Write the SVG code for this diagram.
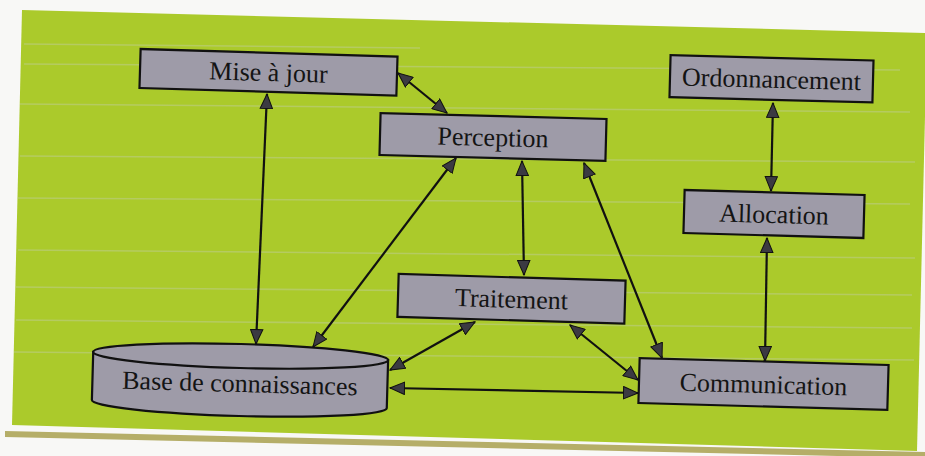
<svg xmlns="http://www.w3.org/2000/svg" width="925" height="456" viewBox="0 0 925 456">
  <style>
    .box { fill: #9e9ba8; stroke: #111; stroke-width: 2.2; }
    .lbl { font-family: "Liberation Serif", "Times New Roman", serif; font-size: 26px; fill: #141414; text-anchor: middle; }
    .con { stroke: #111; stroke-width: 2.2; fill: none; marker-start: url(#ah); marker-end: url(#ah); }
    .streak { stroke: #c9cfc6; stroke-width: 1.5; opacity: 0.35; }
  </style>
  <defs>
    <marker id="ah" markerUnits="userSpaceOnUse" viewBox="0 0 16 14" markerWidth="16" markerHeight="14" refX="15" refY="7" orient="auto-start-reverse">
      <path d="M0.5,0.8 L15,7 L0.5,13.2 Z" fill="#3b3a42" stroke="#111" stroke-width="1"/>
    </marker>
  </defs>

  <!-- page background -->
  <rect x="0" y="0" width="925" height="456" fill="#f8f8f6"/>
  <!-- green panel -->
  <polygon points="22,10 927,33 917,451 12,425" fill="#abca2b"/>
  <!-- scan streaks -->
  <g class="streak">
    <line x1="24" y1="44" x2="420" y2="48"/>
    <line x1="24" y1="64" x2="900" y2="70"/>
    <line x1="20" y1="104" x2="910" y2="112"/>
    <line x1="20" y1="156" x2="915" y2="162"/>
    <line x1="18" y1="198" x2="910" y2="204"/>
    <line x1="18" y1="250" x2="915" y2="258"/>
    <line x1="16" y1="287" x2="912" y2="295"/>
    <line x1="16" y1="320" x2="912" y2="328"/>
    <line x1="14" y1="352" x2="914" y2="360"/>
  </g>
  <!-- bottom gold strip -->
  <polygon points="5,431 925,452 925,458 5,437" fill="#b5ae68"/>

  <!-- connectors -->
  <g id="connectors">
    <line class="con" x1="398" y1="73" x2="447" y2="113"/>
    <line class="con" x1="267" y1="94" x2="256" y2="344"/>
    <line class="con" x1="456" y1="158" x2="313" y2="347"/>
    <line class="con" x1="522" y1="161" x2="524" y2="275"/>
    <line class="con" x1="584" y1="163" x2="662" y2="358"/>
    <line class="con" x1="475" y1="322" x2="390" y2="370"/>
    <line class="con" x1="570" y1="325" x2="638" y2="380"/>
    <line class="con" x1="390" y1="388" x2="638" y2="393"/>
    <line class="con" x1="773" y1="103" x2="771" y2="191"/>
    <line class="con" x1="767" y1="238" x2="765" y2="361"/>
  </g>

  <g id="mise-a-jour" transform="rotate(1.7 268.5 72.3)">
    <rect class="box" x="140" y="52.8" width="257" height="39"/>
    <text class="lbl" x="268.5" y="81">Mise à jour</text>
  </g>
  <g id="perception" transform="rotate(1.5 493 137)">
    <rect class="box" x="380" y="116" width="226" height="42"/>
    <text class="lbl" x="493" y="146">Perception</text>
  </g>
  <g id="ordonnancement" transform="rotate(1.5 771.5 78.8)">
    <rect class="box" x="670" y="57.8" width="203" height="42"/>
    <text class="lbl" x="771.5" y="87.8">Ordonnancement</text>
  </g>
  <g id="allocation" transform="rotate(1.6 774 214)">
    <rect class="box" x="684" y="192.5" width="180" height="43"/>
    <text class="lbl" x="774" y="223">Allocation</text>
  </g>
  <g id="traitement" transform="rotate(1.7 511.5 298.8)">
    <rect class="box" x="398" y="277.3" width="227" height="43"/>
    <text class="lbl" x="511.5" y="307.8">Traitement</text>
  </g>
  <g id="communication" transform="rotate(1.6 763.5 384)">
    <rect class="box" x="639" y="361.5" width="249" height="45"/>
    <text class="lbl" x="763.5" y="393">Communication</text>
  </g>
  <g id="base-de-connaissances" transform="translate(240 380) rotate(1.6)">
    <path class="box" d="M-147.5,-24 L-147.5,24 A147.5,12 0 0 0 147.5,24 L147.5,-24 Z"/>
    <ellipse class="box" cx="0" cy="-24" rx="147.5" ry="12"/>
    <text class="lbl" x="0" y="12">Base de connaissances</text>
  </g>
</svg>
